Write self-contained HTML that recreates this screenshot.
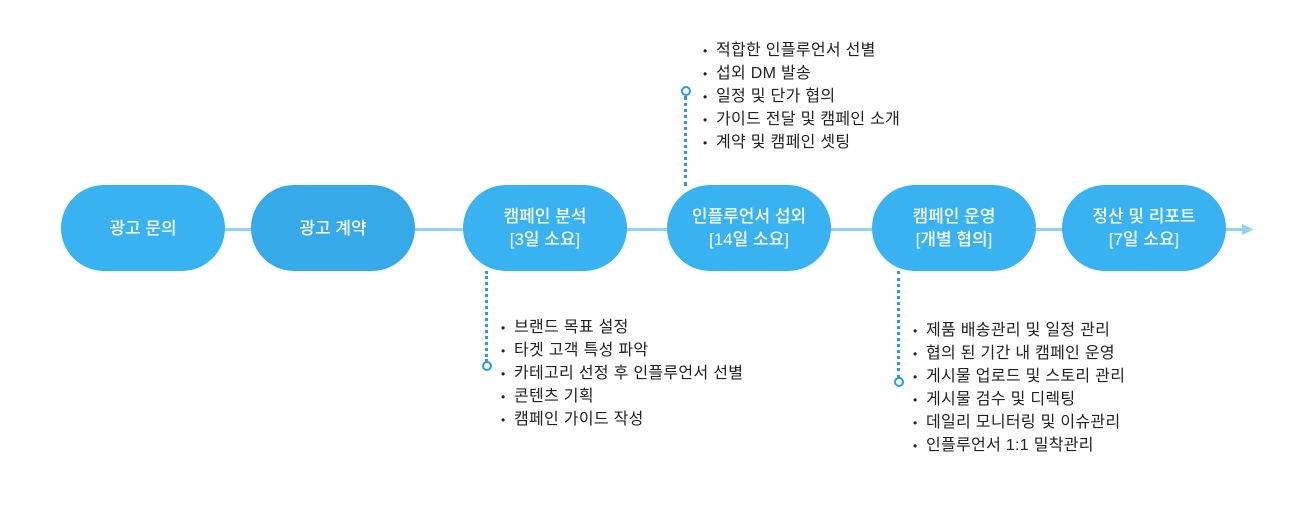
<!DOCTYPE html>
<html><head><meta charset="utf-8"><style>
body{margin:0;width:1308px;height:515px;background:#fff;position:relative;overflow:hidden;font-family:"Liberation Sans","Noto Sans CJK KR",sans-serif}
.p{position:absolute;top:185px;width:164px;height:86px;border-radius:43px;background:#38b2f1;color:#fff;font-size:17px;line-height:23px;display:flex;align-items:center;justify-content:center;text-align:center;flex-direction:column;font-weight:500}
.l{position:absolute;font-size:16px;color:#222;margin:0;padding:0;list-style:none}
.l li{height:23px;line-height:23px;white-space:nowrap;letter-spacing:0.3px}
.l li:before{content:"•";display:inline-block;width:13px;font-size:12px}
.d{position:absolute;width:0;border-left:3px dotted #2a9be6}
.c{position:absolute;width:6px;height:6px;border:2px solid #2a9be6;border-radius:50%;background:#fff}
</style></head><body>
<div style="position:absolute;left:100px;top:228px;width:1145px;height:3px;background:#92d3f2"></div>
<svg style="position:absolute;left:1242px;top:222px" width="14" height="15"><polygon points="0,2 12,7.5 0,13" fill="#92d3f2"/></svg>
<div class="p" style="left:61px">광고 문의</div>
<div class="p" style="left:251px;background:#36a9e8">광고 계약</div>
<div class="p" style="left:463px">캠페인 분석<br>[3일 소요]</div>
<div class="p" style="left:667px">인플루언서 섭외<br>[14일 소요]</div>
<div class="p" style="left:872px">캠페인 운영<br>[개별 협의]</div>
<div class="p" style="left:1062px">정산 및 리포트<br>[7일 소요]</div>

<div class="d" style="left:485px;top:271px;height:91px"></div>
<div class="c" style="left:482px;top:361px"></div>
<ul class="l" style="left:501px;top:316px"><li>브랜드 목표 설정</li><li>타겟 고객 특성 파악</li><li>카테고리 선정 후 인플루언서 선별</li><li>콘텐츠 기획</li><li>캠페인 가이드 작성</li></ul>

<div class="d" style="left:684px;top:96px;height:90px"></div>
<div class="c" style="left:681px;top:86px"></div>
<ul class="l" style="left:703px;top:39px"><li>적합한 인플루언서 선별</li><li>섭외 DM 발송</li><li>일정 및 단가 협의</li><li>가이드 전달 및 캠페인 소개</li><li>계약 및 캠페인 셋팅</li></ul>

<div class="d" style="left:897px;top:271px;height:107px"></div>
<div class="c" style="left:894px;top:377px"></div>
<ul class="l" style="left:913px;top:319px"><li>제품 배송관리 및 일정 관리</li><li>협의 된 기간 내 캠페인 운영</li><li>게시물 업로드 및 스토리 관리</li><li>게시물 검수 및 디렉팅</li><li>데일리 모니터링 및 이슈관리</li><li>인플루언서 1:1 밀착관리</li></ul>
</body></html>
